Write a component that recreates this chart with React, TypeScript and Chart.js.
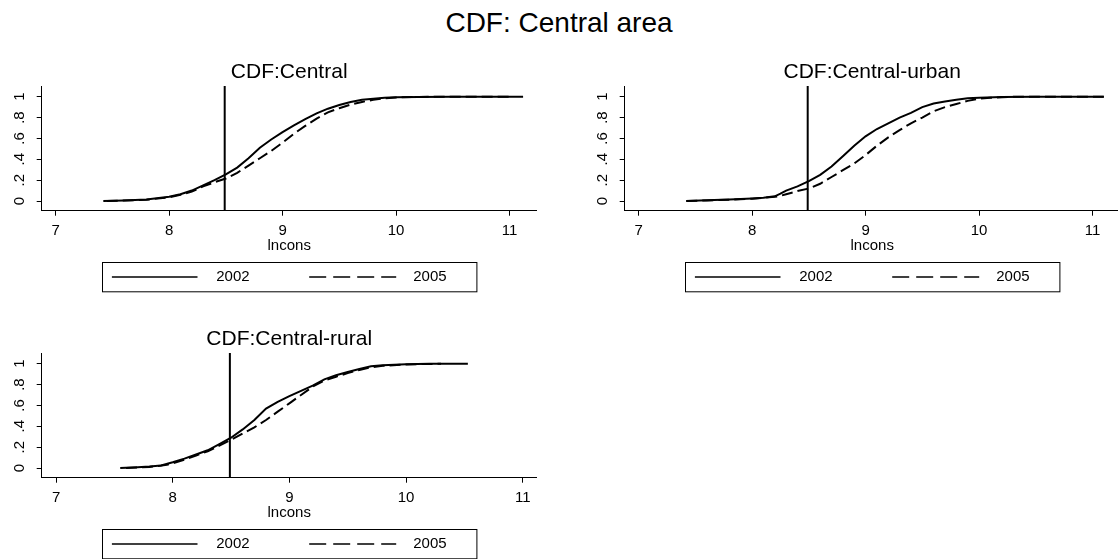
import React, { useEffect, useRef } from "react";
import { Chart, registerables } from "chart.js";

Chart.register(...registerables);

const FONT = "'Liberation Sans', Arial, Helvetica, sans-serif";

// ---------- text ----------
const mainTitle = "CDF: Central area";
const xAxisTitle = "lncons";
const seriesLabels = ["2002", "2005"];

// ---------- ticks ----------
const xTickValues = [7, 8, 9, 10, 11];
const xTickLabels = ["7", "8", "9", "10", "11"];
const yTickValues = [0, 0.2, 0.4, 0.6, 0.8, 1];
const yTickLabels = ["0", ".2", ".4", ".6", ".8", "1"];
const yAxisMin = -0.093;
const yAxisMax = 1.1026;
const povertyLine = 8.49;

// ---------- Central ----------
const centralX2002 = [7.42, 7.6, 7.8, 8.0, 8.1, 8.2, 8.3, 8.4, 8.5, 8.6, 8.7, 8.8, 8.9, 9.0, 9.1, 9.2, 9.3, 9.4, 9.5, 9.6, 9.7, 9.8, 9.9, 10.0, 10.2, 10.5, 11.12];
const centralY2002 = [0, 0.005, 0.015, 0.04, 0.065, 0.1, 0.15, 0.2, 0.255, 0.32, 0.41, 0.51, 0.59, 0.66, 0.725, 0.785, 0.84, 0.885, 0.92, 0.95, 0.97, 0.98, 0.99, 0.995, 0.998, 1, 1];
const centralX2005 = [7.45, 7.6, 7.8, 8.0, 8.1, 8.2, 8.3, 8.4, 8.5, 8.6, 8.7, 8.8, 8.9, 9.0, 9.1, 9.2, 9.3, 9.4, 9.5, 9.6, 9.7, 9.8, 9.9, 10.0, 10.2, 10.5, 11.0];
const centralY2005 = [0, 0.004, 0.012, 0.035, 0.06, 0.09, 0.14, 0.18, 0.215, 0.27, 0.34, 0.41, 0.48, 0.56, 0.645, 0.72, 0.79, 0.85, 0.89, 0.925, 0.95, 0.97, 0.985, 0.993, 0.998, 1, 1];

// ---------- Central-urban ----------
const urbanX2002 = [7.42, 7.6, 7.8, 8.0, 8.1, 8.2, 8.25, 8.3, 8.4, 8.5, 8.6, 8.7, 8.8, 8.9, 9.0, 9.1, 9.2, 9.3, 9.4, 9.5, 9.6, 9.7, 9.8, 9.9, 10.0, 10.2, 10.5, 11.1];
const urbanY2002 = [0, 0.006, 0.015, 0.025, 0.032, 0.045, 0.07, 0.1, 0.14, 0.19, 0.25, 0.33, 0.43, 0.53, 0.62, 0.69, 0.745, 0.8, 0.845, 0.9, 0.935, 0.955, 0.97, 0.985, 0.99, 0.997, 1, 1];
const urbanX2005 = [7.42, 7.6, 7.8, 8.0, 8.1, 8.2, 8.25, 8.3, 8.4, 8.5, 8.6, 8.7, 8.8, 8.9, 9.0, 9.1, 9.2, 9.3, 9.4, 9.5, 9.6, 9.7, 9.8, 9.9, 10.0, 10.1, 10.3, 11.1];
const urbanY2005 = [0, 0.005, 0.012, 0.022, 0.03, 0.04, 0.05, 0.065, 0.095, 0.12, 0.165, 0.23, 0.295, 0.36, 0.44, 0.53, 0.61, 0.68, 0.745, 0.8, 0.86, 0.9, 0.93, 0.96, 0.98, 0.99, 1, 1];

// ---------- Central-rural ----------
const ruralX2002 = [7.55, 7.7, 7.8, 7.9, 8.0, 8.1, 8.2, 8.3, 8.4, 8.5, 8.6, 8.7, 8.8, 8.9, 9.0, 9.1, 9.2, 9.3, 9.4, 9.5, 9.6, 9.7, 9.8, 10.0, 10.2, 10.53];
const ruralY2002 = [0, 0.008, 0.015, 0.025, 0.055, 0.09, 0.13, 0.17, 0.23, 0.29, 0.37, 0.46, 0.57, 0.635, 0.69, 0.74, 0.79, 0.85, 0.89, 0.92, 0.95, 0.975, 0.985, 0.995, 0.999, 1];
const ruralX2005 = [7.6, 7.8, 7.95, 8.0, 8.1, 8.2, 8.3, 8.4, 8.5, 8.6, 8.7, 8.8, 8.9, 9.0, 9.1, 9.2, 9.3, 9.4, 9.5, 9.6, 9.7, 9.8, 10.0, 10.3];
const ruralY2005 = [0, 0.01, 0.03, 0.045, 0.08, 0.12, 0.16, 0.215, 0.27, 0.33, 0.39, 0.46, 0.54, 0.62, 0.7, 0.78, 0.84, 0.875, 0.91, 0.94, 0.965, 0.98, 0.993, 1];

const toPoints = (xs: number[], ys: number[]) => xs.map((x, i) => ({ x, y: ys[i] }));

const boxedLegend = {
  id: "boxedLegend",
  afterDraw(chart: any, _args: any, opts: any) {
    const { ctx, chartArea } = chart;
    const cx = (chartArea.left + chartArea.right) / 2;
    const left = Math.round(cx - opts.width / 2) + 0.5;
    const top = Math.round(chartArea.bottom + opts.offsetY) + 0.5;
    const midY = top + opts.height / 2;
    ctx.save();
    ctx.strokeStyle = "#000";
    ctx.lineWidth = 1;
    ctx.setLineDash([]);
    ctx.strokeRect(left, top, opts.width, opts.height);
    const items = chart.data.datasets.filter((d: any) => seriesLabels.includes(d.label));
    items.forEach((d: any, i: number) => {
      ctx.beginPath();
      ctx.lineWidth = opts.lineWidth;
      ctx.setLineDash(opts.dashes[i]);
      ctx.moveTo(left + opts.lineStarts[i], Math.round(midY));
      ctx.lineTo(left + opts.lineEnds[i], Math.round(midY));
      ctx.stroke();
      ctx.setLineDash([]);
      ctx.fillStyle = "#000";
      ctx.font = `15px ${FONT}`;
      ctx.textBaseline = "middle";
      ctx.textAlign = "left";
      ctx.fillText(d.label, left + opts.textXs[i], midY);
    });
    ctx.restore();
  },
};

type PanelProps = {
  left: number;
  top: number;
  title: string;
  xMin: number;
  xMax: number;
  x2002: number[];
  y2002: number[];
  x2005: number[];
  y2005: number[];
};

const CW = 559;
const CH = 250;

function Panel(p: PanelProps) {
  const ref = useRef<HTMLCanvasElement>(null);
  useEffect(() => {
    if (!ref.current) return;
    const axisFont = { family: FONT, size: 15 };
    const chart = new Chart(ref.current, {
      type: "scatter",
      data: {
        datasets: [
          {
            label: seriesLabels[0],
            data: toPoints(p.x2002, p.y2002),
            showLine: true,
            borderColor: "#000",
            borderWidth: 2,
            pointRadius: 0,
            tension: 0,
          },
          {
            label: seriesLabels[1],
            data: toPoints(p.x2005, p.y2005),
            showLine: true,
            borderColor: "#000",
            borderWidth: 2,
            borderDash: [11, 5],
            pointRadius: 0,
            tension: 0,
          },
          {
            label: "poverty line",
            data: [
              { x: povertyLine, y: yAxisMin },
              { x: povertyLine, y: yAxisMax },
            ],
            showLine: true,
            borderColor: "#000",
            borderWidth: 2,
            pointRadius: 0,
          },
        ],
      } as any,
      options: {
        responsive: false,
        animation: false,
        events: [],
        layout: { padding: { left: 0, right: 22.3, top: 0, bottom: 44.3 } },
        scales: {
          x: {
            type: "linear",
            min: p.xMin,
            max: p.xMax,
            afterBuildTicks: (s: any) => {
              s.ticks = xTickValues.map((v) => ({ value: v }));
            },
            afterFit: (s: any) => {
              s.height = 45;
            },
            ticks: {
              callback: (_v: any, i: number) => xTickLabels[i],
              font: axisFont,
              color: "#000",
              padding: 5.8,
              maxRotation: 0,
              minRotation: 0,
              autoSkip: false,
            },
            grid: { display: true, drawOnChartArea: false, drawTicks: true, tickLength: 5, color: "#000", lineWidth: 1 },
            border: { display: true, color: "#000", width: 1 },
            title: {
              display: true,
              text: xAxisTitle,
              font: { family: FONT, size: 15 },
              color: "#000",
              padding: { top: 0, bottom: 1.2 },
            },
          },
          y: {
            type: "linear",
            min: yAxisMin,
            max: yAxisMax,
            afterBuildTicks: (s: any) => {
              s.ticks = yTickValues.map((v) => ({ value: v }));
            },
            afterFit: (s: any) => {
              s.width = 41.7;
            },
            ticks: {
              callback: (_v: any, i: number) => yTickLabels[i],
              font: axisFont,
              color: "#000",
              padding: 10.45,
              minRotation: 90,
              maxRotation: 90,
              crossAlign: "center",
              autoSkip: false,
            },
            grid: { display: true, drawOnChartArea: false, drawTicks: true, tickLength: 5, color: "#000", lineWidth: 1 },
            border: { display: true, color: "#000", width: 1 },
          },
        },
        plugins: {
          legend: { display: false },
          tooltip: { enabled: false },
          title: {
            display: true,
            text: p.title,
            fullSize: false,
            color: "#000",
            font: { family: FONT, size: 21, weight: "normal" },
            padding: { top: 10.1, bottom: 0.7 },
          },
          boxedLegend: {
            width: 374.4,
            height: 29.3,
            offsetY: 51,
            lineWidth: 1.5,
            lineStarts: [9.4, 206.7],
            lineEnds: [95, 293.7],
            textXs: [113.7, 310.7],
            dashes: [[], [17, 7]],
          },
        } as any,
      },
      plugins: [boxedLegend],
    } as any);
    return () => chart.destroy();
  }, []);
  return (
    <canvas
      ref={ref}
      width={CW}
      height={CH}
      style={{ position: "absolute", left: p.left, top: p.top, width: CW, height: CH }}
    />
  );
}

export default function App() {
  return (
    <div
      style={{
        position: "fixed",
        left: 0,
        top: 0,
        width: 1118,
        height: 559,
        overflow: "hidden",
        background: "#fff",
      }}
    >
      <div
        style={{
          position: "absolute",
          left: 0,
          top: 9,
          width: 1118,
          textAlign: "center",
          fontFamily: FONT,
          fontSize: 28,
          lineHeight: "28px",
          color: "#000",
        }}
      >
        {mainTitle}
      </div>
      <Panel left={0} top={50} title="CDF:Central" xMin={6.877} xMax={11.24} x2002={centralX2002} y2002={centralY2002} x2005={centralX2005} y2005={centralY2005} />
      <Panel left={583} top={50} title="CDF:Central-urban" xMin={6.877} xMax={11.24} x2002={urbanX2002} y2002={urbanY2002} x2005={urbanX2005} y2005={urbanY2005} />
      <Panel left={0} top={317} title="CDF:Central-rural" xMin={6.877} xMax={11.12} x2002={ruralX2002} y2002={ruralY2002} x2005={ruralX2005} y2005={ruralY2005} />
    </div>
  );
}
